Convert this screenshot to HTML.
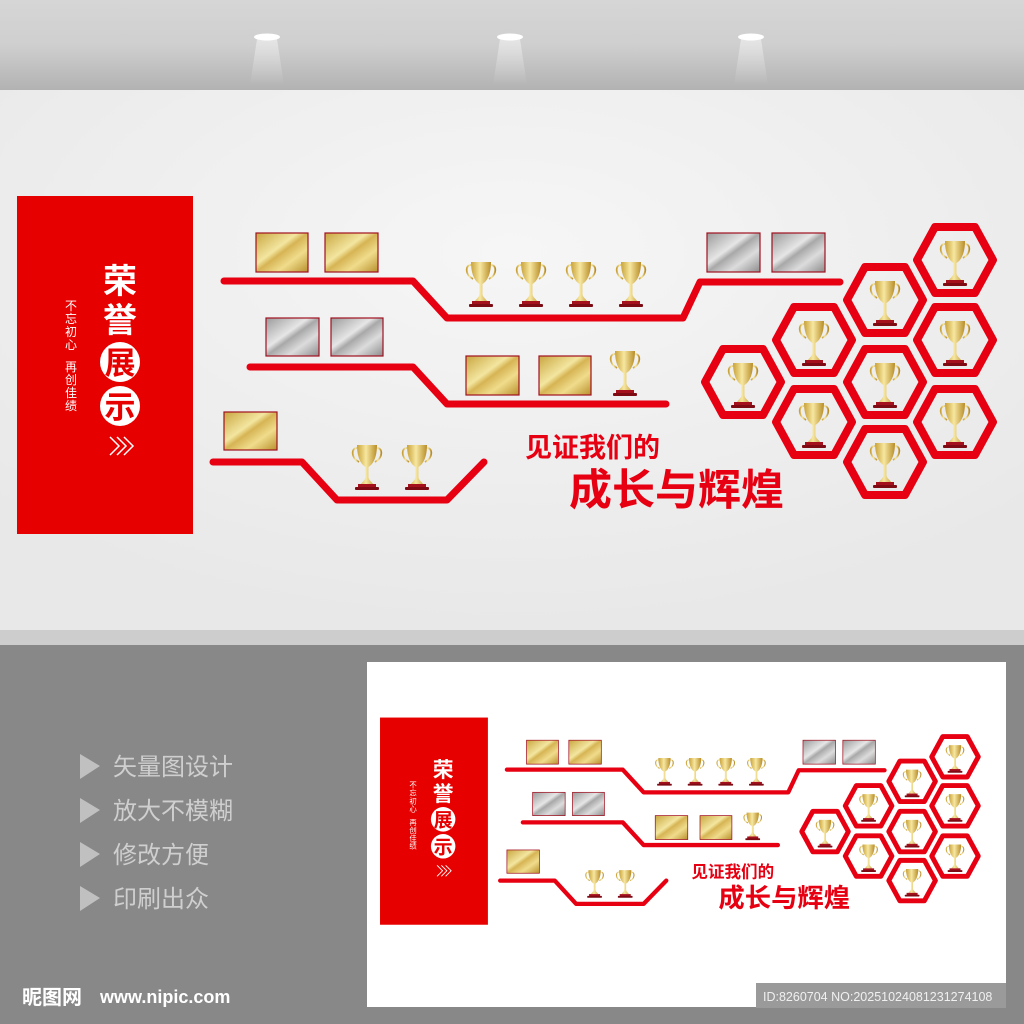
<!DOCTYPE html>
<html><head><meta charset="utf-8"><style>
html,body{margin:0;padding:0;width:1024px;height:1024px;overflow:hidden;background:#888}
svg{display:block}
text{font-family:"Liberation Sans","Noto Sans CJK SC",sans-serif}
</style></head><body>
<svg width="1024" height="1024" viewBox="0 0 1024 1024" xmlns="http://www.w3.org/2000/svg">
<defs>
<linearGradient id="ceil" x1="0" y1="0" x2="0" y2="1"><stop offset="0" stop-color="#d6d6d6"/><stop offset="0.5" stop-color="#cfcfcf"/><stop offset="1" stop-color="#b2b2b2"/></linearGradient>
<radialGradient id="wall" cx="0.5" cy="0.3" r="0.7"><stop offset="0" stop-color="#f6f6f6"/><stop offset="1" stop-color="#e8e8e8"/></radialGradient>
<linearGradient id="beam" x1="0" y1="0" x2="0" y2="1"><stop offset="0" stop-color="#fff" stop-opacity="0.45"/><stop offset="1" stop-color="#fff" stop-opacity="0"/></linearGradient>
<linearGradient id="gold" x1="0" y1="0" x2="1" y2="1"><stop offset="0" stop-color="#c9a640"/><stop offset="0.4" stop-color="#f3e6a0"/><stop offset="0.5" stop-color="#d6b454"/><stop offset="0.7" stop-color="#f0dc8c"/><stop offset="1" stop-color="#b8902c"/></linearGradient>
<linearGradient id="silver" x1="0" y1="0" x2="1" y2="1"><stop offset="0" stop-color="#9a9a9a"/><stop offset="0.4" stop-color="#e6e6e6"/><stop offset="0.5" stop-color="#a8a8a8"/><stop offset="0.7" stop-color="#dcdcdc"/><stop offset="1" stop-color="#8c8c8c"/></linearGradient>
<linearGradient id="cup" x1="0" y1="0" x2="1" y2="0"><stop offset="0" stop-color="#c9a23a"/><stop offset="0.45" stop-color="#f7e7a0"/><stop offset="1" stop-color="#b88d28"/></linearGradient>
<g id="tr">
<path d="M-10,-19 C-16,-19 -16,-9 -8,-5" fill="none" stroke="url(#cup)" stroke-width="1.8"/>
<path d="M10,-19 C16,-19 16,-9 8,-5" fill="none" stroke="url(#cup)" stroke-width="1.8"/>
<path d="M-10,-22 L10,-22 C10,-8 5,-2 1.5,0 L1.5,10 C1.5,13 5,15 6,17 L-6,17 C-5,15 -1.5,13 -1.5,10 L-1.5,0 C-5,-2 -10,-8 -10,-22Z" fill="url(#cup)"/>
<rect x="-9" y="17" width="18" height="4" fill="#a4101c"/>
<rect x="-12" y="20" width="24" height="3" rx="1" fill="#7e0a14"/>
</g>
<path id="hx" d="M-38,0 L-20,-33 L20,-33 L38,0 L20,33 L-20,33Z" fill="none" stroke="#e60012" stroke-width="8" stroke-linejoin="round"/>
<g id="design">
<rect x="17" y="196" width="176" height="338" fill="#e60000"/>
<text x="120" y="293" font-size="34" font-weight="bold" fill="#fff" text-anchor="middle" font-family="'Noto Serif CJK SC',serif">荣</text>
<text x="120" y="332" font-size="34" font-weight="bold" fill="#fff" text-anchor="middle" font-family="'Noto Serif CJK SC',serif">誉</text>
<circle cx="120" cy="362" r="20" fill="#fff"/><circle cx="120" cy="406" r="20" fill="#fff"/>
<text x="120" y="374" font-size="31" font-weight="bold" fill="#e60000" text-anchor="middle" font-family="'Noto Serif CJK SC',serif">展</text>
<text x="120" y="418" font-size="31" font-weight="bold" fill="#e60000" text-anchor="middle" font-family="'Noto Serif CJK SC',serif">示</text>
<path d="M110,437 l9,9 -9,9 M117,437 l9,9 -9,9 M124,437 l9,9 -9,9" fill="none" stroke="#fff" stroke-width="1.5"/>
<g font-size="12" fill="#fff" text-anchor="middle">
<text x="71" y="310">不</text><text x="71" y="323">忘</text><text x="71" y="336">初</text><text x="71" y="349">心</text>
<text x="71" y="371">再</text><text x="71" y="384">创</text><text x="71" y="397">佳</text><text x="71" y="410">绩</text>
</g>
<g fill="none" stroke="#e60012" stroke-width="7" stroke-linecap="round" stroke-linejoin="round">
<path d="M224,281 L413,281 L447,318 L683,318 L700,282 L840,282"/>
<path d="M250,367 L413,367 L447,404 L666,404"/>
<path d="M213,462 L302,462 L337,500 L447,500 L484,462"/>
</g>
<g stroke="#a01020" stroke-width="1.2">
<rect x="256" y="233" width="52" height="39" fill="url(#gold)"/><rect x="325" y="233" width="53" height="39" fill="url(#gold)"/>
<rect x="707" y="233" width="53" height="39" fill="url(#silver)"/><rect x="772" y="233" width="53" height="39" fill="url(#silver)"/>
<rect x="266" y="318" width="53" height="38" fill="url(#silver)"/><rect x="331" y="318" width="52" height="38" fill="url(#silver)"/>
<rect x="466" y="356" width="53" height="39" fill="url(#gold)"/><rect x="539" y="356" width="52" height="39" fill="url(#gold)"/>
<rect x="224" y="412" width="53" height="38" fill="url(#gold)"/>
</g>
<use href="#tr" x="481" y="284"/><use href="#tr" x="531" y="284"/><use href="#tr" x="581" y="284"/><use href="#tr" x="631" y="284"/>
<use href="#tr" x="625" y="373"/>
<use href="#tr" x="367" y="467"/><use href="#tr" x="417" y="467"/>
<text x="525" y="457" font-size="27" font-weight="bold" fill="#e60012">见证我们的</text>
<text x="569" y="505" font-size="43" font-weight="bold" fill="#e60012">成长与辉煌</text>
<use href="#hx" x="955" y="260"/><use href="#hx" x="885" y="300"/><use href="#hx" x="955" y="340"/>
<use href="#hx" x="814" y="340"/><use href="#hx" x="885" y="382"/><use href="#hx" x="955" y="422"/>
<use href="#hx" x="743" y="382"/><use href="#hx" x="814" y="422"/><use href="#hx" x="885" y="462"/>
<use href="#tr" x="955" y="263"/><use href="#tr" x="885" y="303"/><use href="#tr" x="955" y="343"/>
<use href="#tr" x="814" y="343"/><use href="#tr" x="885" y="385"/><use href="#tr" x="955" y="425"/>
<use href="#tr" x="743" y="385"/><use href="#tr" x="814" y="425"/><use href="#tr" x="885" y="465"/>
</g>
</defs>
<rect x="0" y="0" width="1024" height="90" fill="url(#ceil)"/>
<rect x="0" y="90" width="1024" height="540" fill="url(#wall)"/>
<g>
<ellipse cx="267" cy="37" rx="13" ry="3.5" fill="#fff"/><path d="M257,39 L277,39 L284,85 L250,85Z" fill="url(#beam)"/>
<ellipse cx="510" cy="37" rx="13" ry="3.5" fill="#fff"/><path d="M500,39 L520,39 L527,85 L493,85Z" fill="url(#beam)"/>
<ellipse cx="751" cy="37" rx="13" ry="3.5" fill="#fff"/><path d="M741,39 L761,39 L768,85 L734,85Z" fill="url(#beam)"/>
</g>
<use href="#design"/>
<rect x="0" y="630" width="1024" height="15" fill="#cdcdcd"/>
<rect x="0" y="645" width="1024" height="379" fill="#888"/>
<rect x="367" y="662" width="639" height="345" fill="#fff"/>
<use href="#design" transform="translate(369.6,597.4) scale(0.613)"/>
<g fill="#c0c0c0">
<path d="M80,754 L100,766 L80,779Z"/><path d="M80,798 L100,810 L80,823Z"/><path d="M80,842 L100,854 L80,867Z"/><path d="M80,886 L100,898 L80,911Z"/>
</g>
<g font-size="24" fill="#cfcfcf">
<text x="113" y="775">矢量图设计</text><text x="113" y="819">放大不模糊</text><text x="113" y="863">修改方便</text><text x="113" y="907">印刷出众</text>
</g>
<text x="22" y="1004" font-size="20" font-weight="bold" fill="#fff">昵图网</text>
<text x="100" y="1003" font-size="18" font-weight="bold" fill="#fff">www.nipic.com</text>
<rect x="756" y="983" width="250" height="25" fill="#9a9a9a"/>
<text x="763" y="1001" font-size="12.5" fill="#f0f0f0">ID:8260704 NO:20251024081231274108</text>
</svg>
</body></html>
